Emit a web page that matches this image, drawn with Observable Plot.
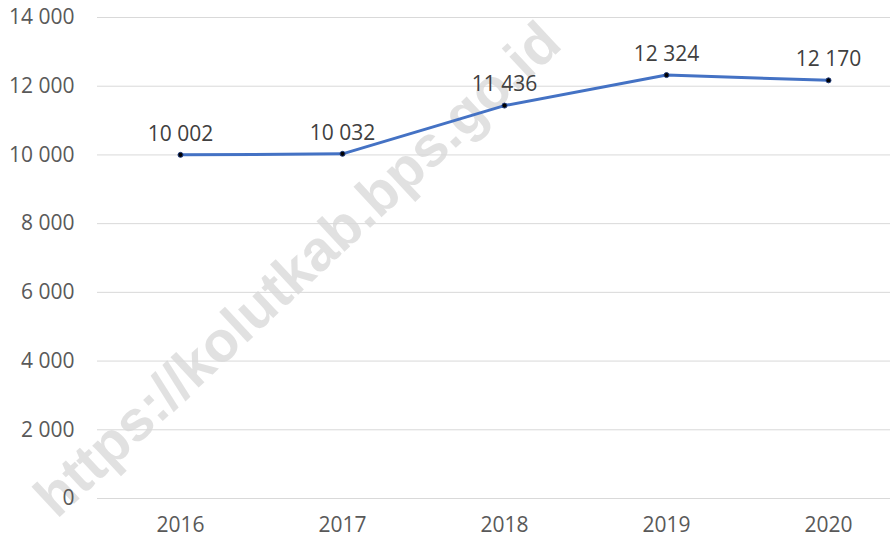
<!DOCTYPE html>
<html>
<head>
<meta charset="utf-8">
<script src="https://cdn.jsdelivr.net/npm/d3@7"></script>
<script src="https://cdn.jsdelivr.net/npm/@observablehq/plot@0.6"></script>
<style>
  html, body { margin: 0; padding: 0; background: #fff; }
  #chart svg { display: block; }
</style>
</head>
<body>
<div id="chart"></div>
<script>
const years = ["2016", "2017", "2018", "2019", "2020"];
const values = [10002, 10032, 11436, 12324, 12170];
const yTicks = [0, 2000, 4000, 6000, 8000, 10000, 12000, 14000];
const watermark = ["https://kolutkab.bps.go.id"];

const data = years.map((year, i) => ({year, value: values[i]}));
const loc = d3.formatLocale({decimal: ",", thousands: " ", grouping: [3], currency: ["", ""]});
const fmt = loc.format(",d");

const font = "'Open Sans', 'Noto Sans', sans-serif";

const chart = Plot.plot({
  width: 892,
  height: 544,
  marginLeft: 97,
  marginRight: 2,
  marginTop: 17,
  marginBottom: 46,
  style: {fontFamily: font, fontSize: "21px", color: "#595959", background: "#fff"},
  x: {type: "point", domain: years, range: [96.5, 910.5], padding: 0.5, label: null},
  y: {domain: [0, 14000], label: null},
  marks: [
    Plot.text(watermark, {
      text: d => d, frameAnchor: "middle", dx: -196, dy: 12, rotate: -43,
      fontSize: 57, fontWeight: "bold", fontFamily: "'Liberation Sans', Arial, sans-serif",
      fill: "#d9d9d9", fillOpacity: 0.8
    }),
    Plot.ruleY(yTicks, {stroke: "#d9d9d9", strokeWidth: 1}),
    Plot.axisY({ticks: yTicks, tickSize: 0, tickPadding: 23, tickFormat: fmt, fontSize: 21, fill: "#595959"}),
    Plot.axisX({tickSize: 0, tickPadding: 19, fontSize: 21, fill: "#595959"}),
    Plot.line(data, {x: "year", y: "value", stroke: "#4472C4", strokeWidth: 3}),
    Plot.dot(data, {x: "year", y: "value", r: 2.5, fill: "#000", stroke: "#1f3a7a", strokeWidth: 1}),
    Plot.text(data, {x: "year", y: "value", text: d => fmt(d.value), dy: -21, fontSize: 21, fill: "#404040"})
  ]
});
document.getElementById("chart").append(chart);
</script>
</body>
</html>
